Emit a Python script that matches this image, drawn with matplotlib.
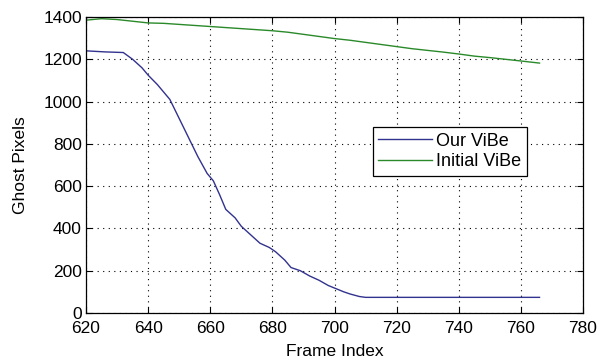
import numpy as np
import matplotlib.pyplot as plt

plt.rcParams['font.family'] = ['Liberation Sans', 'DejaVu Sans']

# Our ViBe (ghost pixels per frame)
frames_our = [620, 626, 632, 635, 638, 640, 643, 645, 647, 650, 653, 656, 659, 661,
              663, 665, 668, 670, 673, 676, 679, 681, 684, 686, 689, 692, 695, 698,
              700, 703, 705, 708, 710, 766]
ghost_our = [1240, 1235, 1232, 1200, 1160, 1125, 1080, 1045, 1010, 920, 830, 740, 660, 625,
             560, 490, 450, 410, 370, 330, 310, 290, 250, 215, 200, 175, 155, 130,
             118, 100, 90, 78, 74, 74]

# Initial ViBe
frames_init = [620, 625, 630, 635, 640, 645, 650, 655, 660, 665, 670, 675, 680, 685, 690,
               695, 700, 705, 710, 715, 720, 725, 730, 735, 740, 745, 750, 755, 760, 766]
ghost_init = [1385, 1392, 1388, 1380, 1372, 1370, 1365, 1360, 1355, 1350, 1345, 1340, 1335,
              1328, 1318, 1308, 1298, 1290, 1280, 1270, 1260, 1250, 1242, 1234, 1225,
              1215, 1208, 1200, 1192, 1182]

xticks = np.arange(620, 781, 20)
yticks = np.arange(0, 1401, 200)

fig = plt.figure(figsize=(5.97, 3.64), dpi=100)
ax = fig.add_axes([86 / 597, 1 - 313 / 364, 497 / 597, 296 / 364])

ax.plot(frames_our, ghost_our, color='#32328f', lw=1.0, label='Our ViBe')
ax.plot(frames_init, ghost_init, color='#2a8a2a', lw=1.0, label='Initial ViBe')

ax.set_xlim(620, 780)
ax.set_ylim(0, 1400)
ax.set_xticks(xticks)
ax.set_yticks(yticks)
ax.tick_params(direction='in', top=True, right=True, labelsize=12.5, length=4, pad=3)
ax.tick_params(axis='x', pad=5.5)
ax.grid(True, color='black', linestyle=(0, (1, 4)), linewidth=0.8)
for s in ax.spines.values():
    s.set_linewidth(0.9)

ax.set_xlabel('Frame Index', fontsize=12.5, labelpad=6)
ax.set_ylabel('Ghost Pixels', fontsize=12.5, labelpad=11)

leg = ax.legend(loc='upper left', bbox_to_anchor=(0.577, 0.628), borderaxespad=0,
                fancybox=False, edgecolor='black', framealpha=1, fontsize=13,
                handlelength=3.0, handletextpad=0.2, labelspacing=0.2, borderpad=0.3)
leg.get_frame().set_linewidth(0.9)

fig.savefig('out.png', dpi=100)
